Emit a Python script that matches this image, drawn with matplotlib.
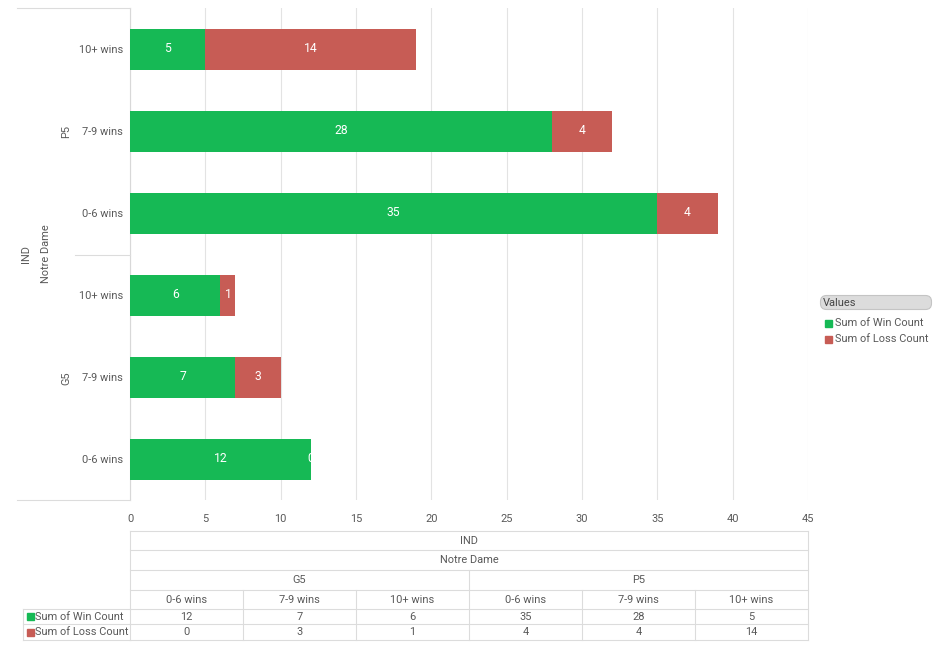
import numpy as np
import matplotlib
matplotlib.use('Agg')
from matplotlib import pyplot as plt
from matplotlib.patches import FancyBboxPatch, Rectangle

plt.rcParams['font.family'] = ['Roboto', 'DejaVu Sans']

# data
groups = ['G5', 'G5', 'G5', 'P5', 'P5', 'P5']
buckets = ['0-6 wins', '7-9 wins', '10+ wins', '0-6 wins', '7-9 wins', '10+ wins']
win_count = [12, 7, 6, 35, 28, 5]
loss_count = [0, 3, 1, 4, 4, 14]
series_names = ['Sum of Win Count', 'Sum of Loss Count']
top_header = 'IND'
second_header = 'Notre Dame'

GREEN = '#16b955'
RED = '#c75c55'
GRID = '#e3e3e3'
TXT = '#595959'
FS = 7.9

W, H = 938, 655
fig = plt.figure(figsize=(W / 100, H / 100), dpi=100)

# main plot area in pixels
px0, px1, py0, py1 = 130, 808, 8, 500
ax = fig.add_axes([px0 / W, 1 - py1 / H, (px1 - px0) / W, (py1 - py0) / H])

# bars listed top to bottom: P5 10+ ... G5 0-6
order = list(range(len(buckets)))[::-1]
ypos = np.arange(len(order))
wins = [win_count[i] for i in order]
losses = [loss_count[i] for i in order]
ax.barh(ypos, wins, height=0.5, color=GREEN, zorder=3)
ax.barh(ypos, losses, left=wins, height=0.5, color=RED, zorder=3)
for y, w, l in zip(ypos, wins, losses):
    ax.text(w / 2, y, str(w), color='white', ha='center', va='center', fontsize=8.7, zorder=4)
    ax.text(w + l / 2, y, str(l), color='white', ha='center', va='center', fontsize=8.7, zorder=4)

ax.set_xlim(0, 45)
ax.set_ylim(len(order) - 0.5, -0.5)
ax.set_xticks(np.arange(0, 46, 5))
ax.set_yticks(ypos)
ax.set_yticklabels([buckets[i] for i in order])
ax.tick_params(axis='both', length=0, labelsize=FS, colors=TXT)
ax.tick_params(axis='y', pad=5)
ax.tick_params(axis='x', pad=10)
ax.grid(axis='x', color=GRID, linewidth=0.8, zorder=0)
for s in ['top', 'right', 'bottom']:
    ax.spines[s].set_visible(False)
ax.spines['left'].set_color('#d8d8d8')

# overlay in pixel coords for headers, table and legend
ov = fig.add_axes([0, 0, 1, 1])
ov.set_xlim(0, W)
ov.set_ylim(H, 0)
ov.axis('off')
line_kw = dict(color='#dcdcdc', linewidth=0.8)

# left category frame
ov.plot([17, px0], [py0, py0], **line_kw)
ov.plot([17, px0], [py1, py1], **line_kw)
ov.plot([75, px0], [254.5, 254.5], **line_kw)
ov.text(66, 378, 'G5', rotation=90, ha='center', va='center', fontsize=FS, color=TXT)
ov.text(66, 131, 'P5', rotation=90, ha='center', va='center', fontsize=FS, color=TXT)
ov.text(26, 254, top_header, rotation=90, ha='center', va='center', fontsize=FS, color=TXT)
ov.text(46, 254, second_header, rotation=90, ha='center', va='center', fontsize=FS, color=TXT)

# data table under the chart
rows_y = [531, 550, 570, 590, 609, 624, 640]
ncol = len(buckets)
cw = (px1 - px0) / ncol
for y in rows_y:
    ov.plot([px0, px1], [y, y], **line_kw)
ov.plot([23, px0], [609, 609], **line_kw)
ov.plot([23, px0], [624, 624], **line_kw)
ov.plot([23, px0], [640, 640], **line_kw)
ov.plot([23, 23], [609, 640], **line_kw)
ov.plot([px0, px0], [531, 640], **line_kw)
ov.plot([px1, px1], [531, 640], **line_kw)
ov.plot([px0 + 3 * cw, px0 + 3 * cw], [570, 640], **line_kw)
for k in [1, 2, 4, 5]:
    ov.plot([px0 + k * cw, px0 + k * cw], [590, 640], **line_kw)

mid = (px0 + px1) / 2
ov.text(mid, 540.5, top_header, ha='center', va='center', fontsize=FS, color=TXT)
ov.text(mid, 560, second_header, ha='center', va='center', fontsize=FS, color=TXT)
ov.text(px0 + 1.5 * cw, 580, 'G5', ha='center', va='center', fontsize=FS, color=TXT)
ov.text(px0 + 4.5 * cw, 580, 'P5', ha='center', va='center', fontsize=FS, color=TXT)
for k in range(ncol):
    cx = px0 + (k + 0.5) * cw
    ov.text(cx, 600, buckets[k], ha='center', va='center', fontsize=FS, color=TXT)
    ov.text(cx, 616.5, str(win_count[k]), ha='center', va='center', fontsize=FS, color=TXT)
    ov.text(cx, 632, str(loss_count[k]), ha='center', va='center', fontsize=FS, color=TXT)
for yy, name, col in [(616.5, series_names[0], GREEN), (632, series_names[1], RED)]:
    ov.add_patch(Rectangle((27, yy - 3.5), 7, 7, color=col))
    ov.text(35, yy, name, ha='left', va='center', fontsize=FS, color=TXT)

# legend
ov.add_patch(FancyBboxPatch((820.5, 295.5), 111, 14, boxstyle='round,pad=0,rounding_size=6',
                            facecolor='#dcdcdc', edgecolor='#c4c4c4', linewidth=0.8))
ov.text(823, 302.5, 'Values', ha='left', va='center', fontsize=FS, color='#444444')
for yy, name, col in [(323, series_names[0], GREEN), (339, series_names[1], RED)]:
    ov.add_patch(Rectangle((825, yy - 3.5), 7, 7, color=col))
    ov.text(835, yy, name, ha='left', va='center', fontsize=FS, color=TXT)

fig.savefig('out.png', dpi=100)
